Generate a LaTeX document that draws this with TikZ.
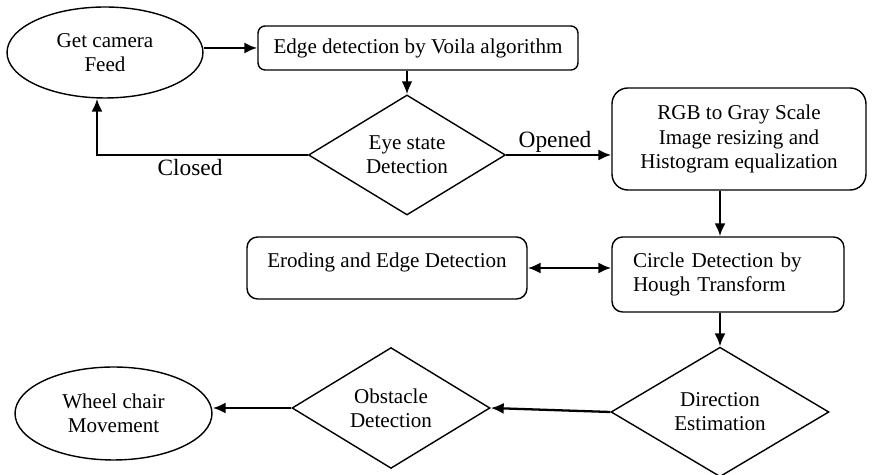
\documentclass[tikz,border=0pt]{standalone}
\usepackage{fontspec}
\setmainfont{Liberation Serif}
\usepackage{tikz}
\usetikzlibrary{positioning,calc,arrows.meta,shapes.geometric}

\begin{document}
\begin{tikzpicture}[
    x=0.02cm,
    y=-0.02cm,
    font=\rmfamily\fontsize{12}{13.7}\selectfont,
    >={Latex[length=2.6mm,width=2.2mm]},
    terminal/.style={
        draw,
        line width=0.8pt,
        ellipse,
        inner sep=0pt,
        align=center
    },
    process/.style={
        draw,
        line width=0.8pt,
        rounded corners=4pt,
        inner sep=2pt,
        align=center
    },
    decision/.style={
        draw,
        line width=0.8pt,
        diamond,
        inner sep=0pt,
        align=center
    },
    arrow/.style={
        ->,
        line width=1.3pt
    },
    tag/.style={
        font=\rmfamily\fontsize{13.3}{15}\selectfont
    }
]
\useasboundingbox (0,0) rectangle (873,475);

% top row
\node[terminal, minimum width=3.92cm, minimum height=1.82cm] (feed) at (105,52.5) {Get camera\\Feed};
\node[process, minimum width=6.4cm, minimum height=0.88cm] (voila) at (418,48) {Edge detection by Voila algorithm};
\node[decision, minimum width=3.94cm, minimum height=2.28cm] (eye) at (407,155) {Eye state\\Detection};
\node[process, rounded corners=9pt, minimum width=5.08cm, minimum height=2.04cm] (rgb) at (739,139) {RGB to Gray Scale\\Image resizing and\\Histogram equalization};

\coordinate (closedup) at ([xshift=-0.16cm]feed.south);

\draw[arrow] (feed.east |- voila.west) -- (voila.west);
\draw[arrow] (eye.north |- voila.south) -- (eye.north);
\draw[arrow] (eye.west) -| (closedup);
\draw[arrow] (eye.east) -- (eye.east -| rgb.west);

\node[tag] (closed) at (190,168) {Closed};
\node[tag] (opened) at (555,142) {Opened};

% middle row
\node[process, rounded corners=6pt, text depth=0.31cm, minimum width=5.6cm, minimum height=1.24cm] (erode) at (387,268) {Eroding and Edge Detection};
\node[process, rounded corners=6pt, text width=3.8cm, minimum width=4.64cm, minimum height=1.5cm, align=left] (circle) at (728,274.5) {Circle Detection by\\Hough Transform};

% bottom row
\node[decision, minimum width=4.36cm, minimum height=2.4cm] (dir) at (720,412) {Direction\\Estimation};
\node[decision, minimum width=3.96cm, minimum height=2.06cm] (obst) at (391,408) {Obstacle\\Detection};
\node[terminal, minimum width=3.94cm, minimum height=1.86cm] (wheel) at (113.5,413.5) {Wheel chair\\Movement};

\draw[arrow] (rgb.south -| dir.north) -- (circle.north -| dir.north);
\draw[arrow, <->] (erode.east) -- (erode.east -| circle.west);
\draw[arrow] (circle.south -| dir.north) -- (dir.north);
\draw[arrow] (dir.west) -- (obst.east);
\draw[arrow] (obst.west) -- (obst.west -| wheel.east);

\end{tikzpicture}
\end{document}
